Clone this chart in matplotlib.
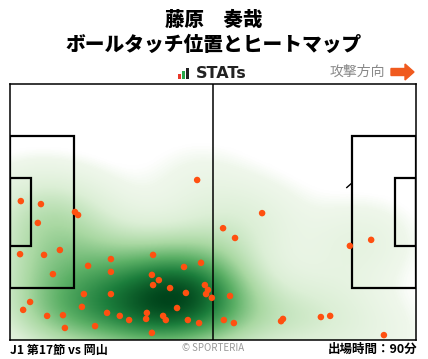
import numpy as np
import matplotlib
matplotlib.use("Agg")
import matplotlib.pyplot as plt
from matplotlib.colors import LinearSegmentedColormap
from matplotlib.patches import Rectangle, FancyArrow

plt.rcParams['font.family'] = ['Noto Sans CJK JP', 'DejaVu Sans']

# ball touch positions (metres, pitch 105 x 68, origin bottom-left, attacking right)
touch_x = [16.8, 17.6, 7.2, 2.6, 8.8, 12.9, 11.1, 20.2, 26.1, 26.1, 37.0, 36.7, 38.5, 37.0,
           41.4, 45.0, 49.4, 50.4, 51.2, 50.7, 52.2, 45.5, 43.2, 19.1, 18.6, 26.1, 5.2, 3.4,
           9.6, 13.7, 14.2, 22.0, 25.1, 28.4, 30.8, 35.4, 35.2, 36.7, 39.6, 40.3, 46.0, 48.9,
           2.8, 8.0, 48.4, 65.2, 55.1, 58.2, 87.9, 93.4, 56.9, 55.3, 57.9, 70.1, 70.6, 80.4,
           82.8, 96.7]
touch_y = [34.0, 33.2, 31.1, 22.8, 22.6, 23.9, 17.5, 19.7, 21.5, 18.1, 22.6, 17.3, 15.9, 14.6,
           13.8, 19.4, 20.5, 14.6, 13.3, 12.2, 11.2, 12.5, 8.5, 12.2, 8.8, 12.2, 10.1, 8.0,
           6.4, 6.6, 3.2, 3.7, 7.2, 6.4, 5.3, 7.2, 5.6, 1.9, 6.4, 5.3, 5.3, 4.5,
           36.9, 36.1, 42.5, 33.7, 29.7, 27.1, 25.0, 26.6, 11.7, 5.3, 4.5, 5.0, 5.6, 6.1,
           6.4, 1.3]

title_name = "藤原　奏哉"
title_sub = "ボールタッチ位置とヒートマップ"
match_label = "J1 第17節 vs 岡山"
minutes_label = "出場時間：90分"

W, H = 105, 68

fig = plt.figure(figsize=(4.28, 3.59), dpi=100)
fig.patch.set_facecolor("white")

ax = fig.add_axes([10 / 428, 19 / 359, 406 / 428, 256 / 359])
ax.set_xlim(0, W)
ax.set_ylim(0, H)
ax.set_xticks([])
ax.set_yticks([])
for s in ax.spines.values():
    s.set_linewidth(1.1)
    s.set_color("black")
    s.set_zorder(4)

# heatmap: gaussian kde of the touches
tx = np.array(touch_x)
ty = np.array(touch_y)
gx, gy = np.meshgrid(np.linspace(0, W, 420), np.linspace(0, H, 272))
bx, by = 10.0, 8.0
dens = np.zeros_like(gx)
for px, py in zip(tx, ty):
    dens += np.exp(-((gx - px) ** 2 / (2 * bx ** 2) + (gy - py) ** 2 / (2 * by ** 2)))
dens /= dens.max()

cmap = LinearSegmentedColormap.from_list(
    "heat", [(0.0, "#ffffff"), (0.03, "#ffffff"), (0.06, "#eff7eb"), (0.2, "#dcefd6"),
             (0.4, "#a9d8a2"), (0.6, "#5cb066"), (0.8, "#1c7e3c"), (1.0, "#00441b")])
ax.imshow(dens, extent=[0, W, 0, H], origin="lower", cmap=cmap, vmin=0.0, vmax=1.0,
          interpolation="bilinear", aspect="auto", zorder=1)

# pitch markings
lw = 1.6
ax.axvline(W / 2, color="black", lw=1.1, zorder=2)
ax.add_patch(Rectangle((0, (H - 40.3) / 2), 16.5, 40.3, fill=False, lw=lw, ec="black", zorder=2))
ax.add_patch(Rectangle((0, (H - 18.3) / 2), 5.5, 18.3, fill=False, lw=lw, ec="black", zorder=2))
ax.add_patch(Rectangle((W - 16.5, (H - 40.3) / 2), 16.5, 40.3, fill=False, lw=lw, ec="black", zorder=2))
ax.add_patch(Rectangle((W - 5.5, (H - 18.3) / 2), 5.5, 18.3, fill=False, lw=lw, ec="black", zorder=2))
ax.plot([87.1, 88.2], [40.5, 41.5], color="black", lw=1.0, zorder=2)

ax.scatter(tx, ty, s=22, color="#ff5010", edgecolors="none", zorder=3)

# header
fig.text(0.5, 1 - 20 / 359, title_name, ha="center", va="center", fontsize=14, fontweight="heavy")
fig.text(0.5, 1 - 45 / 359, title_sub, ha="center", va="center", fontsize=14.2, fontweight="heavy")

# STATs logo
lax = fig.add_axes([177 / 428, 1 - 79 / 359, 13 / 428, 11 / 359])
lax.bar([0, 1, 2], [0.45, 0.75, 1.0], width=0.7, color=["#e8382a", "#2aa64a", "#222222"])
lax.set_xlim(-0.5, 2.5)
lax.set_ylim(0, 1)
lax.axis("off")
fig.text(196 / 428, 1 - 73 / 359, "STATs", ha="left", va="center", fontsize=11.5,
         fontweight="bold", color="#222222", family=["DejaVu Sans"])

fig.text(385 / 428, 1 - 72 / 359, "攻撃方向", ha="right", va="center", fontsize=10, color="#888888")
fig.patches.append(FancyArrow(391 / 428, 1 - 72 / 359, 14 / 428, 0, width=7 / 359,
                              head_width=16 / 359, head_length=9 / 428,
                              length_includes_head=False, color="#f05a1e",
                              transform=fig.transFigure, figure=fig))

# footer
fig.text(10 / 428, 1 - 350 / 359, match_label, ha="left", va="center", fontsize=8.7, fontweight="bold")
fig.text(213 / 428, 1 - 348 / 359, "© SPORTERIA", ha="center", va="center", fontsize=7, color="#999999")
fig.text(417 / 428, 1 - 349 / 359, minutes_label, ha="right", va="center", fontsize=9, fontweight="bold")

fig.savefig("out.png", dpi=100)
